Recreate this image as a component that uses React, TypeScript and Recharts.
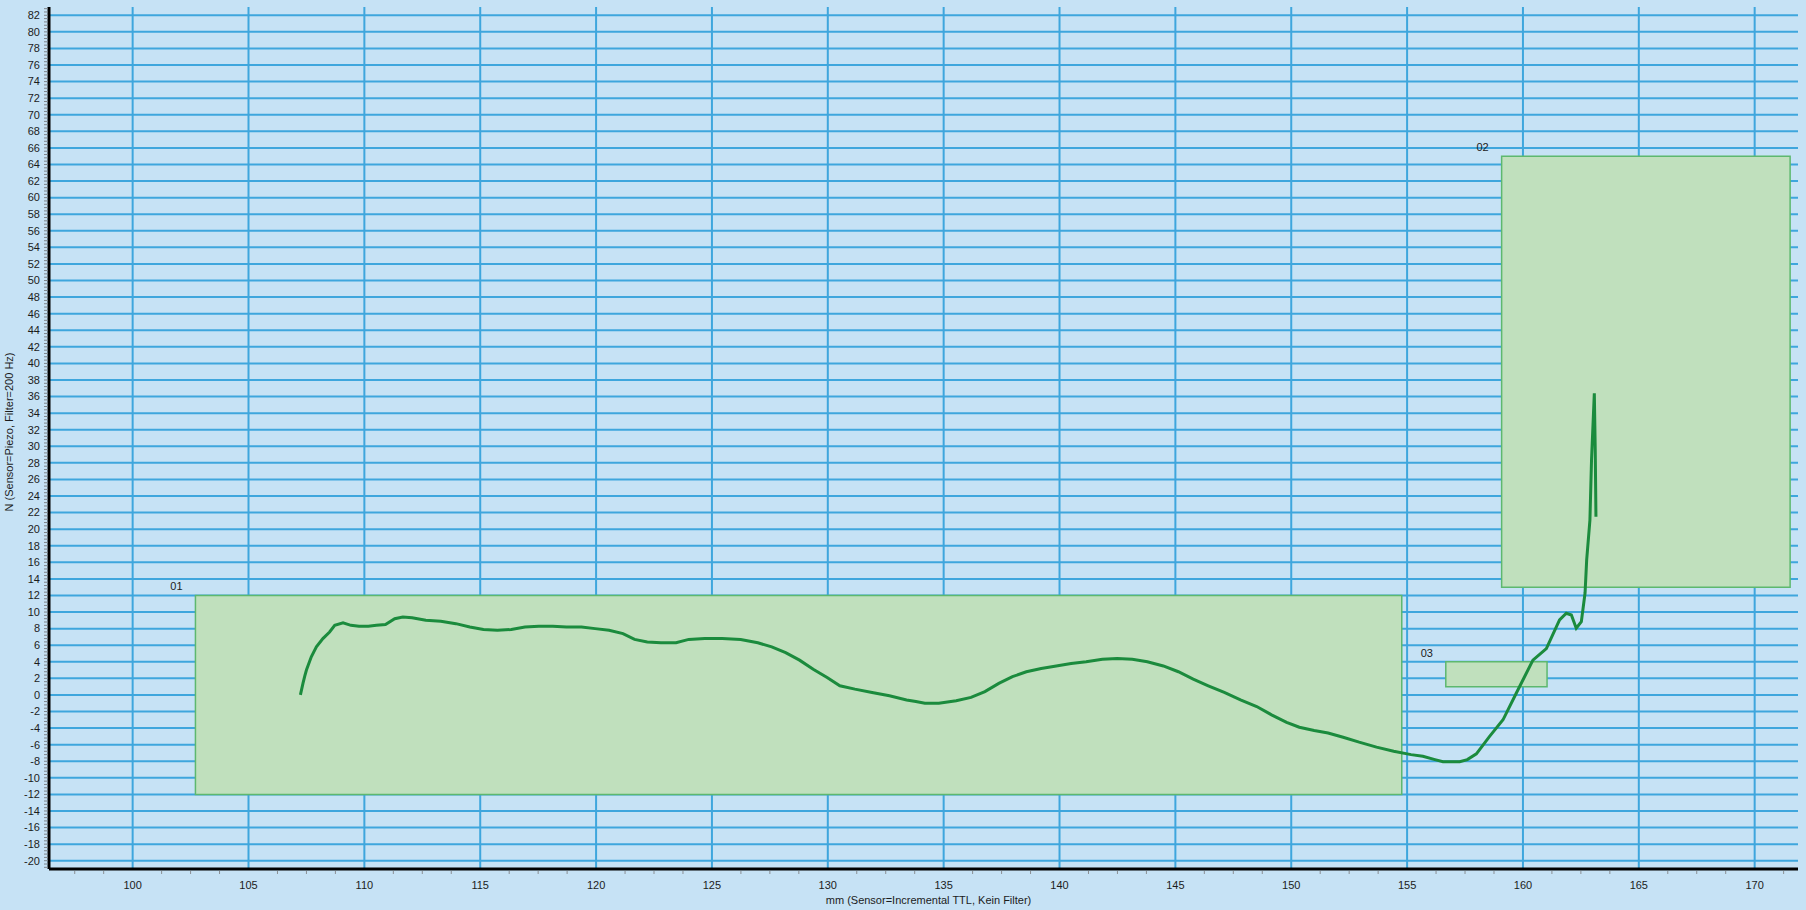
import { CartesianGrid, ComposedChart, Line, ReferenceArea, XAxis, YAxis } from "recharts";

// force curve
const MM = [
  107.24, 107.35, 107.43, 107.5, 107.71, 107.93, 108.21, 108.5, 108.72, 109.08,
  109.42, 109.77, 110.17, 110.52, 110.91, 111.31, 111.66, 112.06, 112.65, 113.3,
  113.95, 114.55, 115.14, 115.74, 116.34, 116.93, 117.53, 118.13, 118.72, 119.37,
  119.96, 120.56, 121.16, 121.66, 122.21, 122.8, 123.45, 124.0, 124.69, 125.44,
  126.24, 126.98, 127.58, 128.18, 128.78, 129.37, 129.97, 130.52, 131.17, 131.91,
  132.66, 133.4, 133.8, 134.19, 134.79, 135.54, 136.18, 136.78, 137.38, 137.97,
  138.57, 139.21, 139.86, 140.5, 141.15, 141.85, 142.49, 143.14, 143.79, 144.48,
  145.13, 145.77, 146.42, 147.11, 147.81, 148.51, 149.15, 149.8, 150.35, 150.99,
  151.59, 152.24, 152.93, 153.68, 154.42, 155.17, 155.68, 156.2, 156.55, 157.27,
  157.6, 157.99, 158.56, 159.14, 159.71, 160.43, 161.01, 161.58, 161.87, 162.09,
  162.3, 162.52, 162.68, 162.75, 162.89, 162.96, 163.08, 163.12, 163.15,
];
const FORCE_N = [
  0, 1.4, 2.3, 3.0, 4.6, 5.8, 6.8, 7.6, 8.4, 8.7,
  8.4, 8.3, 8.3, 8.4, 8.5, 9.2, 9.4, 9.3, 9.0, 8.9,
  8.6, 8.2, 7.9, 7.8, 7.9, 8.2, 8.3, 8.3, 8.2, 8.2,
  8.0, 7.8, 7.4, 6.7, 6.4, 6.3, 6.3, 6.7, 6.8, 6.8,
  6.7, 6.3, 5.8, 5.1, 4.2, 3.1, 2.1, 1.1, 0.7, 0.3,
  -0.1, -0.6, -0.8, -1.0, -1.0, -0.7, -0.3, 0.4, 1.4, 2.2,
  2.8, 3.2, 3.5, 3.8, 4.0, 4.3, 4.4, 4.3, 4.0, 3.5,
  2.8, 1.9, 1.1, 0.3, -0.6, -1.4, -2.4, -3.3, -3.9, -4.3,
  -4.6, -5.1, -5.7, -6.3, -6.8, -7.2, -7.4, -7.8, -8.05, -8.05,
  -7.8, -7.1, -5.0, -3.0, 0.2, 4.2, 5.6, 9.05, 9.85, 9.65,
  8.05, 8.85, 12.3, 16.3, 21.1, 28.4, 36.4, 29.5, 21.5,
];

// evaluation windows
const WINDOW_IDS = ["01", "02", "03"];
const WINDOW_X1 = [102.71, 159.08, 156.67];
const WINDOW_X2 = [154.77, 171.53, 161.04];
const WINDOW_Y1 = [-12, 13, 1];
const WINDOW_Y2 = [12, 65, 4];

const X_LABELS = [100, 105, 110, 115, 120, 125, 130, 135, 140, 145, 150, 155, 160, 165, 170];
const Y_LABELS = [
  -20, -18, -16, -14, -12, -10, -8, -6, -4, -2, 0, 2, 4, 6, 8, 10, 12, 14, 16, 18,
  20, 22, 24, 26, 28, 30, 32, 34, 36, 38, 40, 42, 44, 46, 48, 50, 52, 54, 56, 58,
  60, 62, 64, 66, 68, 70, 72, 74, 76, 78, 80, 82,
];

const X_DOMAIN: [number, number] = [96.39, 171.87];
const Y_DOMAIN: [number, number] = [-21, 83];

// minor ticks: x every 1.25 mm, y every 0.4 N
const xTicks: number[] = [];
for (let k = 0; 97.5 + k * 1.25 <= X_DOMAIN[1]; k++) xTicks.push(97.5 + k * 1.25);
const yTicks: number[] = [];
for (let k = -52; k <= 207; k++) yTicks.push((k * 4) / 10);

const BG = "#c6e2f5";
const GRID = "#3ea6dd";
const BORDER = "#4f5a66";
const AREA_FILL = "#c0e0bd";
const AREA_STROKE = "#5db86f";
const LINE = "#1b8b3d";
const FONT = "'Liberation Sans', Arial, sans-serif";
const TEXT = "#1c1c1c";

function scaleOf(axis: any, offset: any, horizontal: boolean) {
  const s = axis?.scale;
  if (typeof s === "function") return (v: number) => s(v);
  if (s && typeof s.map === "function") return (v: number) => s.map(v);
  // fallback: plain linear map over the plot area
  return horizontal
    ? (v: number) => offset.left + ((v - X_DOMAIN[0]) / (X_DOMAIN[1] - X_DOMAIN[0])) * offset.width
    : (v: number) => offset.top + ((Y_DOMAIN[1] - v) / (Y_DOMAIN[1] - Y_DOMAIN[0])) * offset.height;
}

function XTick(props: any) {
  const { x, y, payload } = props;
  const v = payload.value;
  if (X_LABELS.includes(v)) {
    return (
      <text x={x} y={y + 20} textAnchor="middle" fontSize={11} fontFamily={FONT} fill={TEXT}>
        {v}
      </text>
    );
  }
  return <line x1={x} x2={x} y1={y + 2} y2={y + 5} stroke="#8a8f94" strokeWidth={1} />;
}

function YTick(props: any) {
  const { x, y, payload } = props;
  const v = payload.value;
  const major = Number.isInteger(v) && v % 2 === 0;
  return (
    <g>
      <line x1={x - 5} x2={x - 1} y1={y} y2={y} stroke="#7d8389" strokeWidth={1} />
      {major && (
        <text x={x - 9} y={y} dy="0.35em" textAnchor="end" fontSize={11} fontFamily={FONT} fill={TEXT}>
          {v}
        </text>
      )}
    </g>
  );
}

export default function App() {
  const data = MM.map((mm, i) => ({ mm, n: FORCE_N[i] }));

  return (
    <div style={{ width: 1806, height: 910, background: BG }}>
      <style>{`body{margin:0;background:${BG};}`}</style>
      <ComposedChart width={1806} height={910} data={data} margin={{ top: 7, right: 8, bottom: 0, left: 0 }}>
        <CartesianGrid
          stroke={GRID}
          strokeWidth={2}
          horizontalCoordinatesGenerator={({ yAxis, offset }: any) => {
            const f = scaleOf(yAxis, offset, false);
            return Y_LABELS.map((v) => f(v));
          }}
          verticalCoordinatesGenerator={({ xAxis, offset }: any) => {
            const f = scaleOf(xAxis, offset, true);
            return X_LABELS.map((v) => f(v));
          }}
        />
        <XAxis
          dataKey="mm"
          type="number"
          domain={X_DOMAIN}
          allowDataOverflow
          ticks={xTicks}
          interval={0}
          tickSize={0}
          tickMargin={0}
          tickLine={false}
          tick={XTick}
          height={41}
          axisLine={{ stroke: "#000", strokeWidth: 3 }}
          label={{
            content: (p: any) => (
              <text
                x={p.viewBox.x + p.viewBox.width / 2 + 5}
                y={p.viewBox.y + 35}
                textAnchor="middle"
                fontSize={11}
                fontFamily={FONT}
                fill={TEXT}
              >
                mm (Sensor=Incremental TTL, Kein Filter)
              </text>
            ),
          }}
        />
        <YAxis
          type="number"
          domain={Y_DOMAIN}
          allowDataOverflow
          ticks={yTicks}
          interval={0}
          tickSize={0}
          tickMargin={0}
          tickLine={false}
          tick={YTick}
          width={49}
          axisLine={{ stroke: "#000", strokeWidth: 3 }}
          label={{
            content: (p: any) => {
              const cx = p.viewBox.x + 9;
              const cy = p.viewBox.y + p.viewBox.height / 2 - 6;
              return (
                <text
                  x={cx}
                  y={cy}
                  dy="0.35em"
                  transform={`rotate(-90 ${cx} ${cy})`}
                  textAnchor="middle"
                  fontSize={11}
                  fontFamily={FONT}
                  fill={TEXT}
                >
                  N (Sensor=Piezo, Filter=200 Hz)
                </text>
              );
            },
          }}
        />
        {/* top and right frame */}
        <XAxis
          xAxisId="top"
          orientation="top"
          type="number"
          domain={X_DOMAIN}
          height={0}
          tick={false}
          tickLine={false}
          axisLine={{ stroke: BORDER, strokeWidth: 1.5 }}
        />
        <YAxis
          yAxisId="right"
          orientation="right"
          type="number"
          domain={Y_DOMAIN}
          width={0}
          tick={false}
          tickLine={false}
          axisLine={{ stroke: BORDER, strokeWidth: 1.5 }}
        />
        {WINDOW_IDS.map((id, i) => (
          <ReferenceArea
            key={id}
            x1={WINDOW_X1[i]}
            x2={WINDOW_X2[i]}
            y1={WINDOW_Y1[i]}
            y2={WINDOW_Y2[i]}
            fill={AREA_FILL}
            fillOpacity={1}
            stroke={AREA_STROKE}
            strokeWidth={1.5}
            label={(p: any) => (
              <text
                x={p.viewBox.x - 19}
                y={p.viewBox.y - 9}
                dy="0.35em"
                textAnchor="middle"
                fontSize={11}
                fontFamily={FONT}
                fill={TEXT}
              >
                {id}
              </text>
            )}
          />
        ))}
        <Line
          dataKey="n"
          type="linear"
          stroke={LINE}
          strokeWidth={3}
          dot={false}
          activeDot={false}
          isAnimationActive={false}
        />
      </ComposedChart>
    </div>
  );
}
